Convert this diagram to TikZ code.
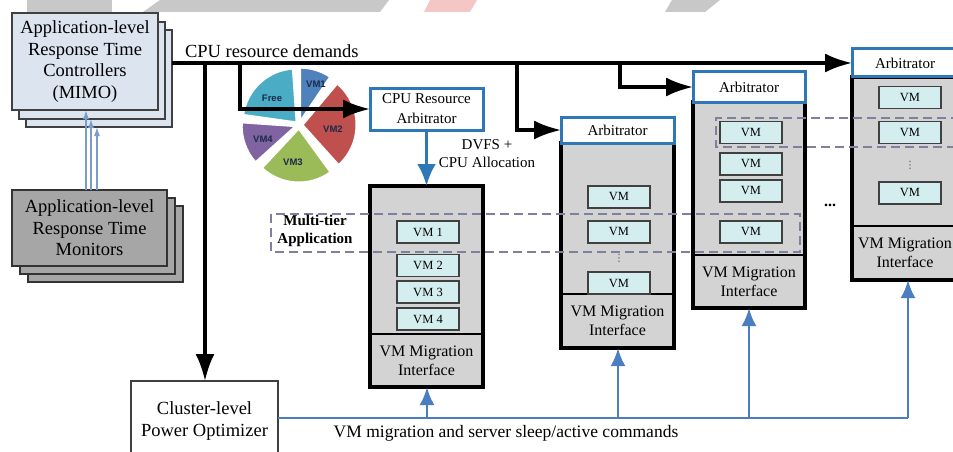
\documentclass[tikz,border=0pt]{standalone}
\usepackage{fontspec}
\setmainfont{Liberation Serif}
\newfontfamily\piefont{Liberation Sans}
\newfontfamily\symfont{DejaVu Sans}
\usetikzlibrary{arrows.meta,calc}
\definecolor{ctrlfill}{HTML}{DCE4F0}
\definecolor{monfill}{HTML}{A6A6A6}
\definecolor{srvfill}{HTML}{D3D3D3}
\definecolor{vmfill}{HTML}{D4EEF0}
\definecolor{arbblue}{HTML}{2F78B8}
\definecolor{linkblue}{HTML}{4A7EC0}
\definecolor{thinblue}{HTML}{7A9CCB}
\definecolor{dashcol}{HTML}{7F7F9E}
\definecolor{wmgray}{HTML}{C8C8C8}
\definecolor{wmpink}{HTML}{F5C6C6}
\definecolor{pieFree}{HTML}{4BACC6}
\definecolor{pieVMa}{HTML}{4F81BD}
\definecolor{pieVMb}{HTML}{C0504D}
\definecolor{pieVMc}{HTML}{9BBB59}
\definecolor{pieVMd}{HTML}{8064A2}
\definecolor{pietext}{HTML}{1C2A4A}
\newcommand\fs[2]{\fontsize{#1}{#2}\selectfont}
\tikzset{
  base/.style={rectangle, inner sep=0pt, outer sep=0pt, align=center},
  ctrlbox/.style={base, draw=black!75, line width=1.3pt, fill=ctrlfill, minimum width=146pt, minimum height=97pt, anchor=north west, font=\fs{18.5}{21.5}},
  monbox/.style={base, draw=black!80, line width=1.3pt, fill=monfill, minimum width=155pt, minimum height=76pt, anchor=north west, font=\fs{18.5}{21.5}},
  srvbox/.style={base, draw=black, line width=3.2pt, fill=srvfill, anchor=north west},
  arbbox/.style={base, draw=arbblue, line width=3pt, fill=white, anchor=north west, font=\fs{15}{20}},
  vmbox/.style={base, draw=black!75, line width=1.8pt, fill=vmfill, minimum width=62pt, minimum height=22pt, font=\fs{12.5}{14}},
  migtext/.style={base, font=\fs{16}{19}},
  divline/.style={draw=black, line width=1.6pt},
  blk/.style={draw=black, line width=3.2pt, -{Latex[length=27pt,width=19pt]}},
  cpuarrow/.style={draw=arbblue, line width=3.8pt, -{Latex[length=22pt,width=19pt]}},
  bluearrow/.style={draw=linkblue, line width=2.8pt, -{Latex[length=18pt,width=15pt]}},
  blueline/.style={draw=linkblue, line width=2.8pt},
  smallarrow/.style={draw=thinblue, line width=1.4pt, -{Latex[length=9pt,width=6pt]}},
  dashreg/.style={draw=dashcol, line width=1.3pt, dash pattern=on 9pt off 5pt},
  pielbl/.style={base, font=\piefont\bfseries\fs{9.5}{10}, text=pietext},
  vdotsnode/.style={base, font=\symfont\fs{10}{10}, text=black!70},
}
\begin{document}
\begin{tikzpicture}[x=1pt,y=-1pt]
\useasboundingbox (0,0) rectangle (953,452);
\clip (0,0) rectangle (953,452);
\fill[white] (0,0) rectangle (953,452);
% faint marks along the top edge
\fill[wmgray] (27,0) rectangle (112,12);
\fill[wmgray] (160,0) -- (389,0) -- (380,12) -- (143,12) -- cycle;
\fill[wmpink] (430,0) -- (477,0) -- (470,12) -- (424,12) -- cycle;
\fill[wmgray] (672,0) -- (720,0) -- (705,12) -- (665,12) -- cycle;

% controllers stack
\node[ctrlbox] (ctrl3) at (26,30) {};
\node[ctrlbox] (ctrl2) at (19,22) {};
\node[ctrlbox] (ctrl) at (12,13) {Application-level\\Response Time\\Controllers\\(MIMO)};

% monitors stack
\node[monbox] (mon3) at (28,206) {};
\node[monbox] (mon2) at (20,198) {};
\node[monbox] (mon) at (12,190) {Application-level\\Response Time\\Monitors};

\draw[smallarrow] ([xshift=74pt]mon.north west) -- ([xshift=74pt]ctrl.south west);
\draw[smallarrow] ([xshift=79pt]mon.north west) -- ([xshift=72pt]ctrl2.south west);
\draw[smallarrow] ([xshift=85pt]mon.north west) -- ([xshift=71pt]ctrl3.south west);

% cluster optimizer
\node[base, draw=black!75, line width=1.5pt, fill=white, minimum width=147pt, minimum height=80pt, anchor=north west, font=\fs{18.5}{22}] (opt) at (131,381) {Cluster-level\\Power Optimizer};

% pie chart
\begin{scope}[shift={(299,125)}, yscale=-1]
\foreach \a/\b/\c in {94/172/pieFree, 56/90/pieVMa, -48/50/pieVMb, -133/-54/pieVMc, 176/222/pieVMd}{
  \pgfmathsetmacro\m{(\a+\b)/2}
  \fill[\c, draw=white, line width=2pt] (\m:3.5) -- ++(\a:54) arc[start angle=\a, end angle=\b, radius=54] -- cycle;
}
\end{scope}
\node[pielbl] (pfree) at (272,98) {Free};
\node[pielbl] (pvm1) at (316,84) {VM1};
\node[pielbl] (pvm2) at (333,129) {VM2};
\node[pielbl] (pvm3) at (293,162) {VM3};
\node[pielbl] (pvm4) at (263,139) {VM4};

% server 1
\node[srvbox, minimum width=113pt, minimum height=201pt] (srv1) at (370,186) {};
\draw[divline] (srv1.west |- 0,334) -- (srv1.east |- 0,334);
\node[migtext] (mig1) at (426.5,361) {VM Migration\\Interface};
\node[vmbox] (v11) at (428,232) {VM 1};
\node[vmbox] (v12) at (428,265.5) {VM 2};
\node[vmbox] (v13) at (428,292) {VM 3};
\node[vmbox] (v14) at (428,319) {VM 4};
\node[arbbox, minimum width=113pt, minimum height=42pt] (cpuarb) at (370,88) {CPU Resource\\Arbitrator};

% server 2
\node[srvbox, minimum width=113pt, minimum height=205pt] (srv2) at (561,143) {};
\draw[divline] (srv2.west |- 0,294) -- (srv2.east |- 0,294);
\node[migtext] (mig2) at (617.5,321) {VM Migration\\Interface};
\node[vmbox] (v21) at (619,197) {VM};
\node[vmbox] (v22) at (619,232) {VM};
\node[vdotsnode] (d2) at (619,258) {⋮};
\node[vmbox] (v23) at (619,283) {VM};
\node[arbbox, minimum width=113pt, minimum height=26pt] (arb1) at (561,117) {Arbitrator};

% server 3
\node[srvbox, minimum width=112pt, minimum height=206pt] (srv3) at (693,102) {};
\draw[divline] (srv3.west |- 0,255) -- (srv3.east |- 0,255);
\node[migtext] (mig3) at (749,281.5) {VM Migration\\Interface};
\node[vmbox] (v31) at (751,132.5) {VM};
\node[vmbox] (v32) at (751,164) {VM};
\node[vmbox] (v33) at (751,191) {VM};
\node[vmbox] (v34) at (751,232) {VM};
\node[arbbox, minimum width=112pt, minimum height=30pt] (arb2) at (693,72) {Arbitrator};

% server 4
\node[srvbox, minimum width=106pt, minimum height=203pt] (srv4) at (852,77) {};
\draw[divline] (srv4.west |- 0,226) -- (srv4.east |- 0,226);
\node[migtext] (mig4) at (905,252.5) {VM Migration\\Interface};
\node[vmbox] (v41) at (910,97.5) {VM};
\node[vmbox] (v42) at (910,132.5) {VM};
\node[vdotsnode] (d4) at (910,165) {⋮};
\node[vmbox] (v43) at (910,193) {VM};
\node[arbbox, minimum width=106pt, minimum height=28pt] (arb3) at (852,49) {Arbitrator};

\node[base, font=\fs{16}{16}\bfseries] (dots) at (830,205) {...};

% multi-tier application regions
\draw[dashreg] (271,214) rectangle (800,252);
\draw[dashreg] (960,118) -- (716,118) -- (716,147) -- (960,147);
\node[base, font=\bfseries\fs{15}{18}] (mta) at (315,231) {Multi-tier\\Application};

% CPU resource demands
\coordinate (start) at ([yshift=-33pt]ctrl3.north east);
\draw[blk] (start) -- (arb3.west);
\node[base, anchor=south west, font=\fs{18.5}{20}] (cpud) at (185,58) {CPU resource demands};
\coordinate (j1) at (205,63);
\coordinate (j2) at (240,63);
\coordinate (j3) at (517,63);
\coordinate (j4) at (620,63);
\draw[blk] (j1) -- (j1 |- opt.north);
\draw[blk] (j2) -- (j2 |- cpuarb.west) -- (cpuarb.west);
\draw[blk] (j3) -- (j3 |- arb1.west) -- (arb1.west);
\draw[blk] (j4) -- (j4 |- arb2.west) -- (arb2.west);

% DVFS
\draw[cpuarrow] (cpuarb.south) -- (srv1.north);
\node[base, font=\fs{15}{18}] (dvfs) at (487,154) {DVFS +\\CPU Allocation};

% migration commands
\coordinate (b0) at (opt.east |- 0,418);
\coordinate (b1) at (427,418);
\coordinate (b2) at (618,418);
\coordinate (b3) at (749,418);
\coordinate (b4) at (908,418);
\draw[blueline] (b0) -- (b4);
\draw[bluearrow] (b1) -- (b1 |- srv1.south);
\draw[bluearrow] (b2) -- (b2 |- srv2.south);
\draw[bluearrow] (b3) -- (b3 |- srv3.south);
\draw[bluearrow] (b4) -- (b4 |- srv4.south);
\node[base, font=\fs{17.5}{20}] (cmds) at (506,433) {VM migration and server sleep/active commands};
\end{tikzpicture}
\end{document}
